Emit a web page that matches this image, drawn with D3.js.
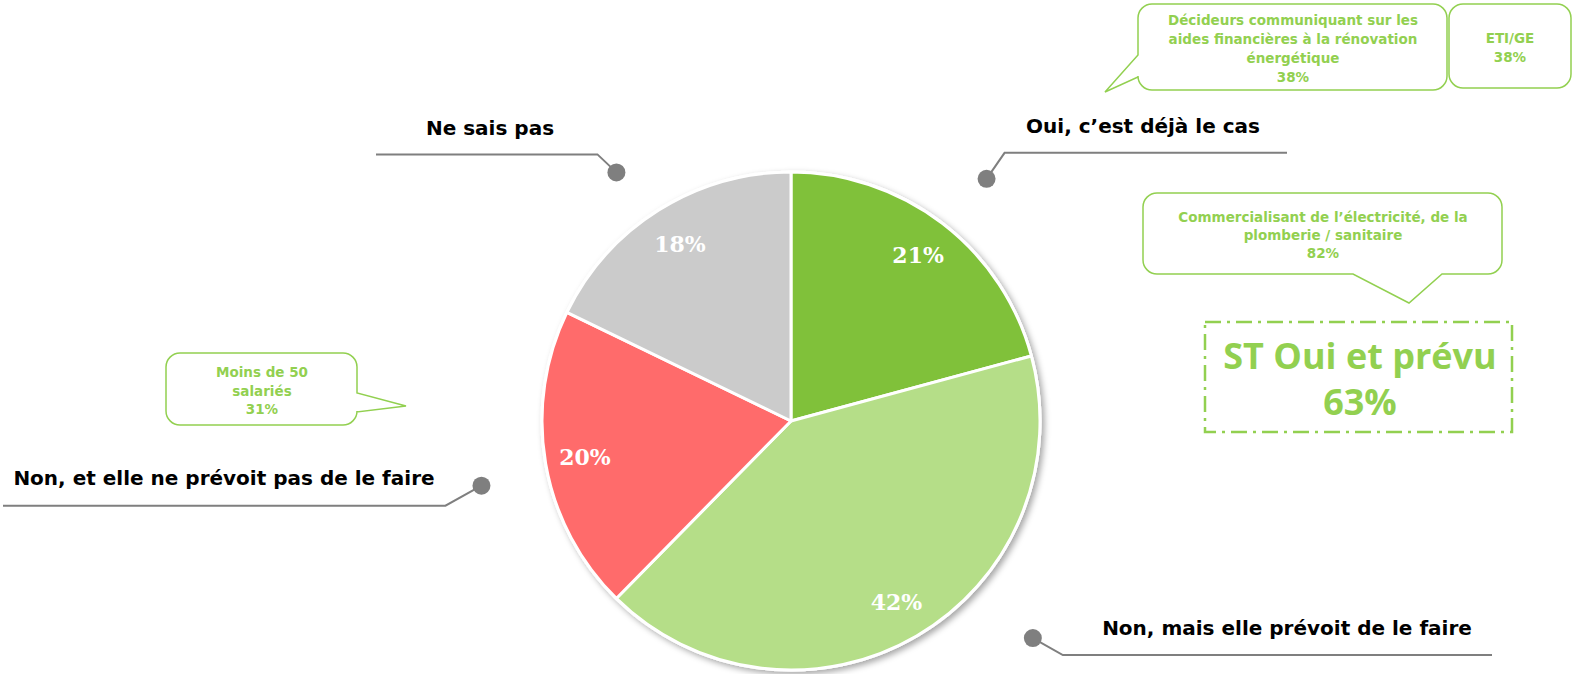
<!DOCTYPE html>
<html>
<head>
<meta charset="utf-8">
<script src="https://cdn.jsdelivr.net/npm/d3@7"></script>
<style>
  body { margin: 0; background: #fff; }
  text { font-family: "DejaVu Sans", "Open Sans", sans-serif; }
</style>
</head>
<body>
<div id="chart"></div>
<script>
// categories, clockwise from 12 o'clock
const categories = ["Oui, c’est déjà le cas", "Non, mais elle prévoit de le faire", "Non, et elle ne prévoit pas de le faire", "Ne sais pas"];
const values = [21, 42, 20, 18];
const sliceColors = ["#80C13A", "#B5DE88", "#FF6B6B", "#CBCBCB"];

// callout texts
const calloutDecideurs = ["Décideurs communiquant sur les", "aides financières à la rénovation", "énergétique", "38%"];
const calloutEti = ["ETI/GE", "38%"];
const calloutCommerce = ["Commercialisant de l’électricité, de la", "plomberie / sanitaire", "82%"];
const calloutMoins = ["Moins de 50", "salariés", "31%"];
const summaryLines = ["ST Oui et prévu", "63%"];

const width = 1576, height = 674;
const cx = 791, cy = 421, radius = 249;
const green = "#92D050", grey = "#7F7F7F";

const svg = d3.select("#chart")
    .append("svg")
    .attr("width", width)
    .attr("height", height)
    .attr("viewBox", [0, 0, width, height]);

const defs = svg.append("defs");
const shadow = defs.append("filter").attr("id", "shadow")
    .attr("x", "-10%").attr("y", "-10%").attr("width", "120%").attr("height", "120%");
shadow.append("feDropShadow")
    .attr("dx", 3).attr("dy", 3).attr("stdDeviation", 3)
    .attr("flood-color", "#000").attr("flood-opacity", 0.35);

// pie
const pie = d3.pie().sort(null).value(d => d);
const arcs = pie(values);
const arc = d3.arc().innerRadius(0).outerRadius(radius);
const labelArc = d3.arc().innerRadius(radius * 0.84).outerRadius(radius * 0.84);

const g = svg.append("g").attr("transform", `translate(${cx},${cy})`);

g.append("circle")
    .attr("r", radius + 1.5)
    .attr("fill", "#fff")
    .attr("filter", "url(#shadow)");

g.selectAll("path.slice")
    .data(arcs)
    .join("path")
    .attr("class", "slice")
    .attr("d", arc)
    .attr("fill", (d, i) => sliceColors[i])
    .attr("stroke", "#fff")
    .attr("stroke-width", 3)
    .attr("stroke-linejoin", "round");

g.selectAll("text.pct")
    .data(arcs)
    .join("text")
    .attr("class", "pct")
    .attr("transform", d => `translate(${labelArc.centroid(d)})`)
    .attr("text-anchor", "middle")
    .attr("dy", "0.36em")
    .style("font-family", "'DejaVu Serif', serif")
    .style("font-weight", "bold")
    .style("font-size", "22px")
    .attr("fill", "#fff")
    .text(d => d.data + "%");

// leader lines + category labels
// angle offset (deg) from slice middle, dot distance, elbow offset, line end x, text pos
const leaders = [
    { da: 1.5, k: 1.25, ex: 18, ey: -26, endX: 1287, tx: 1143, ty: 133 },
    { da: -17.8, k: 1.305, ex: 30, ey: 17, endX: 1492, tx: 1287, ty: 635 },
    { da: -2, k: 1.27, ex: -36, ey: 20, endX: 3, tx: 224, ty: 485 },
    { da: -3, k: 1.22, ex: -19, ey: -18, endX: 376, tx: 490, ty: 135 }
];

arcs.forEach((d, i) => {
    const L = leaders[i];
    const a = (d.startAngle + d.endAngle) / 2 + L.da * Math.PI / 180;
    const r = radius * L.k;
    const px = cx + r * Math.sin(a), py = cy - r * Math.cos(a);
    const ex = px + L.ex, ey = py + L.ey;
    svg.append("path")
        .attr("d", d3.line()([[px, py], [ex, ey], [L.endX, ey]]))
        .attr("fill", "none")
        .attr("stroke", grey)
        .attr("stroke-width", 2);
    svg.append("circle")
        .attr("cx", px).attr("cy", py).attr("r", 9)
        .attr("fill", grey);
    svg.append("text")
        .attr("x", L.tx).attr("y", L.ty)
        .attr("text-anchor", "middle")
        .style("font-weight", "bold")
        .style("font-size", "20px")
        .attr("fill", "#000")
        .text(categories[i]);
});

// rounded box with optional tail
function bubble(x0, y0, x1, y1, r, tail) {
    const p = d3.path();
    p.moveTo(x0 + r, y0);
    p.lineTo(x1 - r, y0);
    p.arcTo(x1, y0, x1, y0 + r, r);
    if (tail && tail.side === "right") {
        p.lineTo(x1, tail.a); p.lineTo(tail.px, tail.py); p.lineTo(x1, tail.b);
    }
    p.lineTo(x1, y1 - r);
    p.arcTo(x1, y1, x1 - r, y1, r);
    if (tail && tail.side === "bottom") {
        p.lineTo(tail.b, y1); p.lineTo(tail.px, tail.py); p.lineTo(tail.a, y1);
    }
    p.lineTo(x0 + r, y1);
    p.arcTo(x0, y1, x0, y1 - r, r);
    if (tail && tail.side === "left") {
        p.lineTo(x0, tail.b); p.lineTo(tail.px, tail.py); p.lineTo(x0, tail.a);
    }
    p.lineTo(x0, y0 + r);
    p.arcTo(x0, y0, x0 + r, y0, r);
    p.closePath();
    return p.toString();
}

function callout(lines, box, tail, textX, firstY, lineH) {
    svg.append("path")
        .attr("d", bubble(box[0], box[1], box[2], box[3], 14, tail))
        .attr("fill", "#fff")
        .attr("stroke", green)
        .attr("stroke-width", 1.5);
    svg.append("text")
        .attr("text-anchor", "middle")
        .style("font-weight", "bold")
        .style("font-size", "13.5px")
        .attr("fill", green)
        .selectAll("tspan")
        .data(lines)
        .join("tspan")
        .attr("x", textX)
        .attr("y", (d, i) => firstY + i * lineH)
        .text(d => d);
}

callout(calloutDecideurs, [1138, 4, 1447, 90], { side: "left", a: 55, b: 77, px: 1105, py: 92 }, 1293, 25, 19);
callout(calloutEti, [1449, 4, 1571, 88], null, 1510, 43, 19);
callout(calloutCommerce, [1143, 193, 1502, 274], { side: "bottom", a: 1353, b: 1442, px: 1409, py: 303 }, 1323, 222, 18);
callout(calloutMoins, [166, 353, 357, 425], { side: "right", a: 393, b: 412, px: 406, py: 406 }, 262, 377, 18.5);

// summary box
svg.append("rect")
    .attr("x", 1205).attr("y", 322)
    .attr("width", 307).attr("height", 110)
    .attr("fill", "none")
    .attr("stroke", green)
    .attr("stroke-width", 2.5)
    .attr("stroke-dasharray", "16 6 3 6");

svg.append("text")
    .attr("text-anchor", "middle")
    .style("font-family", "'Open Sans', sans-serif")
    .style("font-weight", "bold")
    .style("font-size", "36px")
    .attr("fill", green)
    .selectAll("tspan")
    .data(summaryLines)
    .join("tspan")
    .attr("x", 1360)
    .attr("y", (d, i) => 369 + i * 46)
    .text(d => d);
</script>
</body>
</html>
